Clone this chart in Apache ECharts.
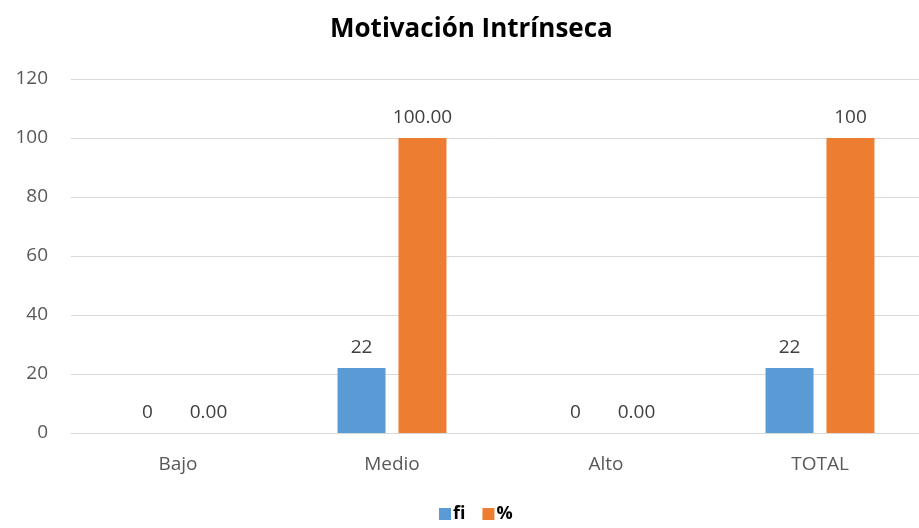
<!DOCTYPE html>
<html lang="es">
<head>
    <meta charset="UTF-8">
    <title>Motivación Intrínseca</title>
    <script src="https://cdn.jsdelivr.net/npm/echarts@6.0.0/dist/echarts.min.js"></script>
    <style>
        html, body { margin: 0; padding: 0; background: #fff; }
        #chart { width: 919px; height: 528px; }
    </style>
</head>
<body>
    <div id="chart"></div>
    <script>
        // data
        const categories = ['Bajo', 'Medio', 'Alto', 'TOTAL'];
        const fiValues = [0, 22, 0, 22];
        const pctValues = [0, 100, 0, 100];
        const fiLabels = ['0', '22', '0', '22'];
        const pctLabels = ['0.00', '100.00', '0.00', '100'];
        const yTicks = [0, 20, 40, 60, 80, 100, 120];

        const font = '"Open Sans", "Noto Sans", sans-serif';
        const chart = echarts.init(document.getElementById('chart'));

        const labelOpt = (texts) => ({
            show: true,
            position: 'top',
            distance: 11,
            color: '#404040',
            fontFamily: font,
            fontSize: 19,
            formatter: p => texts[p.dataIndex]
        });

        chart.setOption({
            animation: false,
            title: {
                text: 'Motivación Intrínseca',
                left: 325,
                top: 12,
                textStyle: { fontFamily: font, fontSize: 26, fontWeight: 'bold', color: '#000' }
            },
            legend: {
                bottom: 0,
                left: 434,
                itemWidth: 12,
                itemHeight: 12,
                itemGap: 17,
                icon: 'rect',
                textStyle: { fontFamily: font, fontSize: 18, fontWeight: 'bold', color: '#000', padding: [0, 0, 0, -3] },
                data: ['fi', '%']
            },
            // plot area runs slightly past the right edge, as in the original
            grid: { left: 71, right: -8, top: 79, bottom: 95, outerBoundsMode: 'none' },
            xAxis: {
                type: 'category',
                data: categories,
                axisLine: { lineStyle: { color: '#d9d9d9', width: 1 } },
                axisTick: { show: false },
                axisLabel: { color: '#595959', fontFamily: font, fontSize: 19, margin: 22 }
            },
            yAxis: {
                type: 'value',
                min: yTicks[0],
                max: yTicks[yTicks.length - 1],
                interval: yTicks[1] - yTicks[0],
                axisLine: { show: false },
                axisTick: { show: false },
                axisLabel: { color: '#595959', fontFamily: font, fontSize: 19, margin: 23 },
                splitLine: { lineStyle: { color: '#d9d9d9', width: 1 } }
            },
            series: [
                {
                    name: 'fi',
                    type: 'bar',
                    data: fiValues,
                    barWidth: 48,
                    barGap: '27%',
                    itemStyle: { color: '#5B9BD5' },
                    label: labelOpt(fiLabels)
                },
                {
                    name: '%',
                    type: 'bar',
                    data: pctValues,
                    barWidth: 48,
                    itemStyle: { color: '#ED7D31' },
                    label: labelOpt(pctLabels)
                }
            ]
        });
    </script>
</body>
</html>
